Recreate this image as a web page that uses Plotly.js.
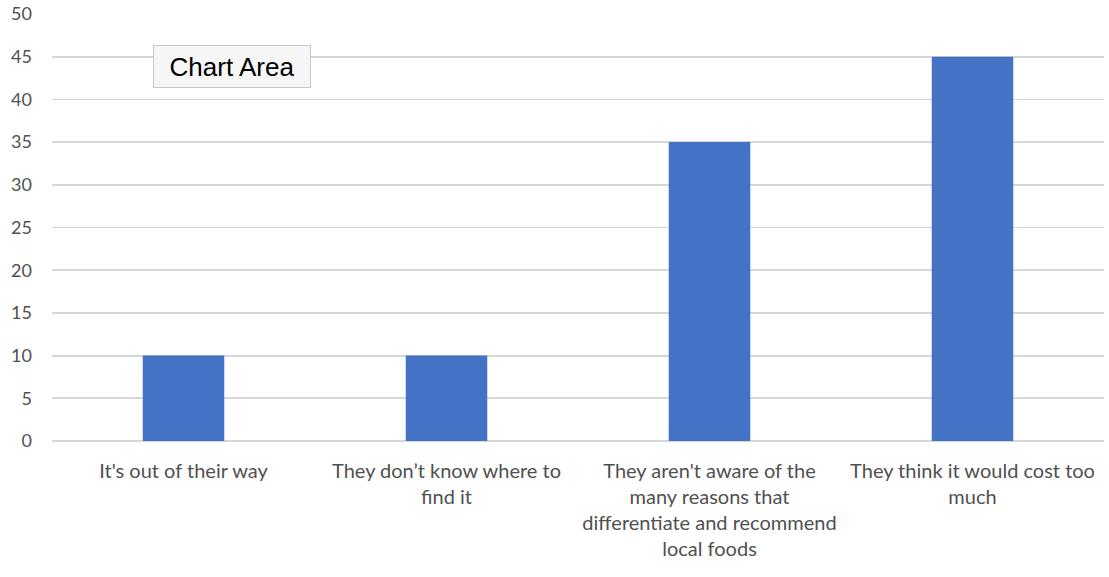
<!DOCTYPE html>
<html>
<head>
<meta charset="utf-8">
<script src="https://cdn.plot.ly/plotly-3.0.1.min.js"></script>
<style>html,body{margin:0;padding:0;background:#fff;}#chart{width:1109px;height:577px;}</style>
</head>
<body>
<div id="chart"></div>
<script>
const categories = [
  "It's out of their way",
  "They don\u2019t know where to<br>find it",
  "They aren't aware of the<br>many reasons that<br>differentiate and recommend<br>local foods",
  "They think it would cost too<br>much"
];
const values = [10, 10, 35, 45];
const yTicks = [0, 5, 10, 15, 20, 25, 30, 35, 40, 45, 50];

const trace = {
  type: 'bar',
  x: categories,
  y: values,
  marker: { color: '#4472c4' },
  hoverinfo: 'skip'
};

const layout = {
  width: 1109,
  height: 577,
  margin: { l: 52, r: 5, t: 14, b: 136 },
  paper_bgcolor: '#ffffff',
  plot_bgcolor: '#ffffff',
  showlegend: false,
  bargap: 0.69,
  font: { family: 'Lato, "Open Sans", sans-serif', color: '#505050', size: 20 },
  xaxis: {
    type: 'category',
    showgrid: false,
    showline: false,
    zeroline: false,
    ticks: 'outside',
    ticklen: 12,
    tickcolor: 'rgba(0,0,0,0)',
    tickangle: 0,
    tickfont: { size: 20, color: '#505050' },
    fixedrange: true
  },
  yaxis: {
    range: [0, 50],
    tickvals: yTicks,
    ticktext: yTicks.map(String),
    showgrid: true,
    gridcolor: '#d6d6d6',
    gridwidth: 1.8,
    zeroline: true,
    zerolinecolor: '#d6d6d6',
    zerolinewidth: 1.8,
    showline: false,
    ticks: '',
    ticklabelstandoff: 19,
    tickfont: { size: 18, color: '#505050' },
    fixedrange: true
  },
  annotations: [{
    text: 'Chart Area',
    xref: 'paper', yref: 'paper',
    x: 0.096, y: 0.927,
    xanchor: 'left', yanchor: 'top',
    showarrow: false,
    font: { family: '"Liberation Sans", Arial, sans-serif', size: 26, color: '#000000' },
    bgcolor: '#f6f6f6',
    bordercolor: '#c8c8c8',
    borderwidth: 1,
    borderpad: 4,
    width: 148,
    height: 33
  }]
};

Plotly.newPlot('chart', [trace], layout, { displayModeBar: false, staticPlot: true });
</script>
</body>
</html>
